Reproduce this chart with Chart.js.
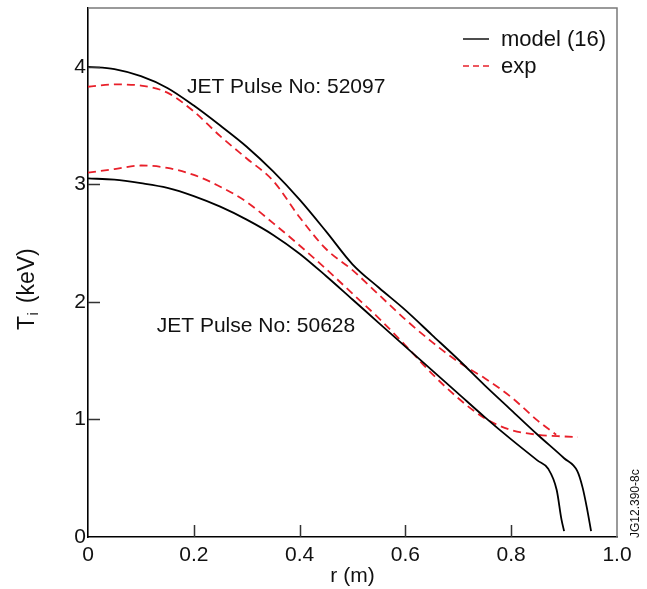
<!DOCTYPE html>
<html><head><meta charset="utf-8">
<script src="https://cdn.jsdelivr.net/npm/chart.js@4/dist/chart.umd.min.js"></script>
<style>html,body{margin:0;padding:0;background:#fff;}</style>
</head><body>
<canvas id="c" width="647" height="589"></canvas>
<script>
// ---- data ----
const rModel52097 = [0, 0.05, 0.1, 0.15, 0.2, 0.25, 0.3, 0.35, 0.4, 0.45, 0.5, 0.55, 0.6, 0.65, 0.7, 0.75, 0.8, 0.85, 0.9, 0.925, 0.935, 0.943, 0.951];
const tModel52097 = [4.00, 3.98, 3.92, 3.82, 3.67, 3.50, 3.32, 3.11, 2.87, 2.60, 2.32, 2.12, 1.93, 1.72, 1.51, 1.29, 1.08, 0.87, 0.67, 0.56, 0.42, 0.25, 0.05];
const rExp52097 = [0, 0.05, 0.1, 0.15, 0.2, 0.25, 0.3, 0.35, 0.4, 0.45, 0.5, 0.55, 0.6, 0.65, 0.7, 0.75, 0.8, 0.85, 0.885];
const tExp52097 = [3.83, 3.85, 3.84, 3.78, 3.62, 3.41, 3.22, 3.03, 2.72, 2.45, 2.27, 2.06, 1.85, 1.66, 1.49, 1.35, 1.19, 0.99, 0.87];
const rModel50628 = [0, 0.05, 0.1, 0.15, 0.2, 0.25, 0.3, 0.35, 0.4, 0.45, 0.5, 0.55, 0.6, 0.65, 0.7, 0.75, 0.8, 0.85, 0.87, 0.886, 0.895, 0.9];
const tModel50628 = [3.05, 3.04, 3.01, 2.97, 2.90, 2.81, 2.70, 2.57, 2.41, 2.22, 2.02, 1.82, 1.62, 1.42, 1.22, 1.02, 0.83, 0.65, 0.58, 0.40, 0.15, 0.05];
const rExp50628 = [0, 0.05, 0.1, 0.15, 0.2, 0.25, 0.3, 0.35, 0.4, 0.45, 0.5, 0.55, 0.6, 0.65, 0.7, 0.75, 0.8, 0.85, 0.9, 0.926];
const tExp50628 = [3.10, 3.13, 3.16, 3.14, 3.08, 2.98, 2.85, 2.67, 2.48, 2.28, 2.07, 1.86, 1.63, 1.39, 1.18, 1.01, 0.91, 0.87, 0.855, 0.85];

const xTicks = [0, 0.2, 0.4, 0.6, 0.8, 1.0];
const xTickLabels = ['0', '0.2', '0.4', '0.6', '0.8', '1.0'];
const yTicks = [0, 1, 2, 3, 4];
const yTickLabels = ['0', '1', '2', '3', '4'];
const legendLabels = ['model (16)', 'exp'];
const pulseLabels = ['JET Pulse No: 52097', 'JET Pulse No: 50628'];
const pulseAnchors = [[0.187, 3.78], [0.130, 1.745]];
const figureCode = 'JG12.390-8c';

const FONT = '"Liberation Sans", Arial, sans-serif';
const BLACK = '#000000';
const RED = '#e8202a';

function pts(rs, ts) { return rs.map((r, i) => ({x: r, y: ts[i]})); }

const modelStyle = {borderColor: BLACK, borderWidth: 1.8, borderDash: []};
const expStyle = {borderColor: RED, borderWidth: 1.8, borderDash: [8, 5]};

const decor = {
  id: 'decor',
  afterDraw(chart) {
    const ctx = chart.ctx;
    const a = chart.chartArea;
    const xs = chart.scales.x, ys = chart.scales.y;
    ctx.save();
    // top / right frame (grey)
    ctx.strokeStyle = '#7a7a7a';
    ctx.lineWidth = 1.5;
    ctx.beginPath();
    ctx.moveTo(a.left, a.top); ctx.lineTo(a.right, a.top); ctx.lineTo(a.right, a.bottom);
    ctx.stroke();
    // inward ticks
    ctx.strokeStyle = '#333';
    ctx.lineWidth = 1.5;
    ctx.beginPath();
    xTicks.forEach(v => {
      if (v <= 0 || v >= 1) return;
      const px = Math.round(xs.getPixelForValue(v)) + 0.5;
      ctx.moveTo(px, a.bottom); ctx.lineTo(px, a.bottom - 12);
    });
    yTicks.forEach(v => {
      if (v <= 0) return;
      const py = Math.round(ys.getPixelForValue(v)) + 0.5;
      ctx.moveTo(a.left, py); ctx.lineTo(a.left + 12, py);
    });
    ctx.stroke();
    // pulse labels
    ctx.fillStyle = '#111';
    ctx.font = '21px ' + FONT;
    ctx.textAlign = 'left';
    ctx.textBaseline = 'alphabetic';
    pulseLabels.forEach((t, i) => {
      ctx.fillText(t, xs.getPixelForValue(pulseAnchors[i][0]), ys.getPixelForValue(pulseAnchors[i][1]));
    });
    // legend
    const styles = [modelStyle, expStyle];
    const lx0 = a.right - 154, lx1 = a.right - 128, tx = a.right - 116;
    const rowY = [a.top + 31, a.top + 58];
    legendLabels.forEach((t, i) => {
      const s = styles[i];
      ctx.strokeStyle = s.borderColor;
      ctx.lineWidth = 1.4;
      ctx.setLineDash(i === 1 ? [6, 4] : []);
      ctx.beginPath(); ctx.moveTo(lx0, rowY[i]); ctx.lineTo(lx1 + (i === 1 ? 2 : 0), rowY[i]); ctx.stroke();
      ctx.setLineDash([]);
      ctx.fillStyle = '#111';
      ctx.font = '22px ' + FONT;
      ctx.textBaseline = 'middle';
      ctx.fillText(t, tx, rowY[i] + 1);
    });
    // y title with subscript
    ctx.save();
    ctx.translate(34, 330);
    ctx.rotate(-Math.PI / 2);
    ctx.textBaseline = 'alphabetic';
    ctx.textAlign = 'left';
    ctx.font = '23px ' + FONT;
    ctx.fillStyle = '#111';
    ctx.fillText('T', 0, 0);
    let w = ctx.measureText('T').width;
    ctx.font = '15px ' + FONT;
    ctx.fillText('i', w + 0.5, 4);
    w += ctx.measureText('i').width + 3;
    ctx.font = '23px ' + FONT;
    ctx.fillText(' (keV)', w, 0);
    ctx.restore();
    // figure code
    ctx.save();
    ctx.translate(639, 538);
    ctx.rotate(-Math.PI / 2);
    ctx.font = '12px ' + FONT;
    ctx.fillStyle = '#111';
    ctx.textBaseline = 'alphabetic';
    ctx.textAlign = 'left';
    ctx.fillText(figureCode, 0, 0);
    ctx.restore();
    ctx.restore();
  }
};

new Chart(document.getElementById('c'), {
  type: 'scatter',
  data: {
    datasets: [
      Object.assign({label: legendLabels[0] + ' 52097', data: pts(rModel52097, tModel52097)}, modelStyle),
      Object.assign({label: legendLabels[1] + ' 52097', data: pts(rExp52097, tExp52097)}, expStyle),
      Object.assign({label: legendLabels[0] + ' 50628', data: pts(rModel50628, tModel50628)}, modelStyle),
      Object.assign({label: legendLabels[1] + ' 50628', data: pts(rExp50628, tExp50628)}, expStyle)
    ].map(d => Object.assign(d, {showLine: true, pointRadius: 0, fill: false, cubicInterpolationMode: 'monotone'}))
  },
  options: {
    responsive: false,
    animation: false,
    devicePixelRatio: 1,
    layout: {padding: {top: 8, right: 30, left: 0, bottom: 0}},
    plugins: {legend: {display: false}, tooltip: {enabled: false}},
    scales: {
      x: {
        type: 'linear', min: 0, max: 1.0,
        afterBuildTicks: s => { s.ticks = xTicks.map(v => ({value: v})); },
        afterFit: s => { s.height = 52; },
        grid: {display: false, drawTicks: false},
        border: {display: true, color: BLACK, width: 1.6},
        ticks: {color: '#111', font: {size: 21, family: FONT}, padding: 6, maxRotation: 0,
                callback: (v) => xTickLabels[xTicks.indexOf(v)] ?? ''},
        title: {display: true, text: 'r (m)', color: '#111', font: {size: 21, family: FONT}, padding: {top: 0, bottom: 0}}
      },
      y: {
        type: 'linear', min: 0, max: 4.5,
        afterBuildTicks: s => { s.ticks = yTicks.map(v => ({value: v})); },
        afterFit: s => { s.width = 88; s.paddingTop = 0; s.paddingBottom = 0; },
        grid: {display: false, drawTicks: false},
        border: {display: true, color: BLACK, width: 1.6},
        ticks: {color: '#111', font: {size: 21, family: FONT}, padding: 2,
                callback: (v) => yTickLabels[yTicks.indexOf(v)] ?? ''}
      }
    }
  },
  plugins: [decor]
});
</script>
</body></html>
